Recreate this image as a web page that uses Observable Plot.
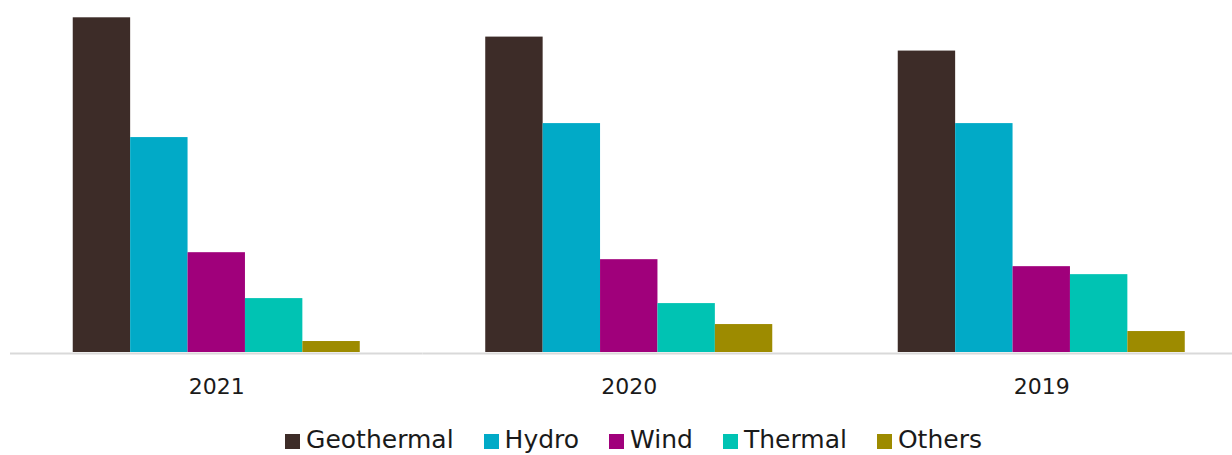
<!DOCTYPE html>
<html>
<head>
<meta charset="utf-8">
<script src="https://cdn.jsdelivr.net/npm/d3@7"></script>
<script src="https://cdn.jsdelivr.net/npm/@observablehq/plot@0.6"></script>
<style>
  html, body { margin: 0; padding: 0; background: #fff; }
  body { width: 1232px; height: 455px; overflow: hidden; font-family: "Century Gothic", "URW Gothic", "DejaVu Sans", sans-serif; }
  #legend { display: flex; justify-content: center; align-items: center; margin-top: 15px; padding-left: 35px; font-size: 25px; line-height: 30px; color: #1a1a1a; }
  #legend .item { display: flex; align-items: center; margin-right: 30px; }
  #legend .item:last-child { margin-right: 0; }
  #legend .sw { width: 15px; height: 15px; margin-right: 6px; margin-top: 2px; }
</style>
</head>
<body>
<div id="chart"></div>
<div id="legend"></div>
<script>
// Electricity generation by source (estimated, GWh)
const years = ["2021", "2020", "2019"];
const sources = ["Geothermal", "Hydro", "Wind", "Thermal", "Others"];
const colors = ["#3d2c28", "#01aac7", "#a0007b", "#00c3b3", "#9d8b00"];

const geothermal = [5030, 4740, 4530];
const hydro      = [3230, 3440, 3440];
const wind       = [1500, 1395, 1290];
const thermal    = [810, 735, 1170];
const others     = [165, 420, 315];

const series = [geothermal, hydro, wind, thermal, others];
const rows = years.flatMap((year, i) =>
  sources.map((source, j) => ({year, source, value: series[j][i]}))
);

const chart = Plot.plot({
  width: 1232,
  height: 410,
  marginLeft: 10,
  marginRight: -15.5,
  marginTop: 0,
  marginBottom: 58,
  style: {fontFamily: "\"Century Gothic\", \"URW Gothic\", \"DejaVu Sans\", sans-serif", background: "#fff"},
  fx: {domain: years, padding: 0, round: false, label: null},
  x: {domain: sources, axis: null, paddingInner: 0, paddingOuter: 1.093, round: false},
  y: {domain: [0, 5290], axis: null},
  color: {domain: sources, range: colors},
  marks: [
    Plot.ruleY([0], {stroke: "#d9d9d9", strokeWidth: 2, dy: 1}),
    Plot.barY(rows, {fx: "year", x: "source", y: "value", fill: "source"}),
    Plot.axisFx({anchor: "bottom", tickSize: 0, tickPadding: 26, fontSize: 22, fill: "#1a1a1a", label: null})
  ]
});
document.getElementById("chart").append(chart);

// Legend built from the chart's colour scale
const color = chart.scale("color");
const legend = document.getElementById("legend");
color.domain.forEach((name, i) => {
  const item = document.createElement("span");
  item.className = "item";
  const sw = document.createElement("span");
  sw.className = "sw";
  sw.style.background = color.range[i];
  const label = document.createElement("span");
  label.textContent = name;
  item.append(sw, label);
  legend.append(item);
});
</script>
</body>
</html>
